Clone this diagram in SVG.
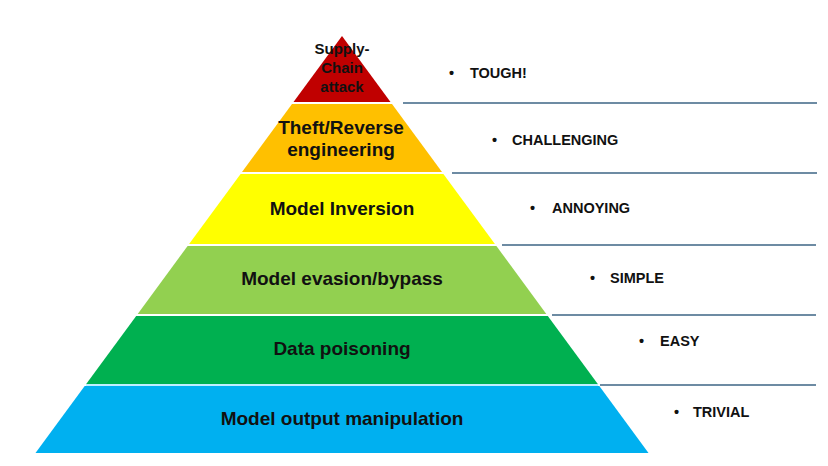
<svg xmlns="http://www.w3.org/2000/svg" width="828" height="466" viewBox="0 0 828 466">
  <style>
    .tier-label { font-family: "Liberation Sans", Arial, sans-serif; font-weight: bold; font-size: 19px; fill: #111; text-anchor: middle; dominant-baseline: central; }
    .top-label { font-family: "Liberation Sans", Arial, sans-serif; font-weight: bold; font-size: 15px; fill: #111; text-anchor: middle; dominant-baseline: central; }
    .rate { font-family: "Liberation Sans", Arial, sans-serif; font-weight: bold; font-size: 14.5px; fill: #111; dominant-baseline: central; }
    .sep { stroke: #3d6584; stroke-width: 1.3; fill: none; }
  </style>
  <rect width="828" height="466" fill="#ffffff"/>

  <g id="tier-supply-chain">
    <polygon points="342,36 293.5,102 390.5,102" fill="#c00000"/>
    <text class="top-label" x="342" y="48">Supply-</text>
    <text class="top-label" x="342" y="67">Chain</text>
    <text class="top-label" x="342" y="86">attack</text>
  </g>
  <g id="tier-theft">
    <polygon points="292,104 392,104 442,172 242,172" fill="#ffc000"/>
    <text class="tier-label" x="341" y="127">Theft/Reverse</text>
    <text class="tier-label" x="341" y="149">engineering</text>
  </g>
  <g id="tier-inversion">
    <polygon points="240.6,174 443.4,174 494.9,244 189.1,244" fill="#ffff00"/>
    <text class="tier-label" x="342" y="208">Model Inversion</text>
  </g>
  <g id="tier-evasion">
    <polygon points="187.6,246 496.4,246 546.3,314 137.7,314" fill="#92d050"/>
    <text class="tier-label" x="342" y="278">Model evasion/bypass</text>
  </g>
  <g id="tier-poisoning">
    <polygon points="136.2,316 547.8,316 597.8,384 86.2,384" fill="#00b050"/>
    <text class="tier-label" x="342" y="348">Data poisoning</text>
  </g>
  <line x1="86" y1="385" x2="598" y2="385" stroke="#bfeeff" stroke-width="2"/>
  <g id="tier-output">
    <polygon points="84.7,386 599.3,386 648.5,453 35.5,453" fill="#00b0f0"/>
    <text class="tier-label" x="342" y="418">Model output manipulation</text>
  </g>

  <g id="separators">
    <line class="sep" x1="403" y1="103" x2="817" y2="103"/>
    <line class="sep" x1="452" y1="173" x2="817" y2="173"/>
    <line class="sep" x1="502" y1="245" x2="816" y2="245"/>
    <line class="sep" x1="552" y1="315" x2="816" y2="315"/>
    <line class="sep" x1="600" y1="385" x2="816" y2="385"/>
  </g>

  <g id="rate-tough"><text class="rate" x="449" y="73">•</text><text class="rate" x="470" y="73">TOUGH!</text></g>
  <g id="rate-challenging"><text class="rate" x="492" y="140">•</text><text class="rate" x="512" y="140">CHALLENGING</text></g>
  <g id="rate-annoying"><text class="rate" x="530" y="208">•</text><text class="rate" x="552" y="208">ANNOYING</text></g>
  <g id="rate-simple"><text class="rate" x="590" y="278">•</text><text class="rate" x="610" y="278">SIMPLE</text></g>
  <g id="rate-easy"><text class="rate" x="639" y="341">•</text><text class="rate" x="660" y="341">EASY</text></g>
  <g id="rate-trivial"><text class="rate" x="674" y="412">•</text><text class="rate" x="693" y="412">TRIVIAL</text></g>
</svg>
